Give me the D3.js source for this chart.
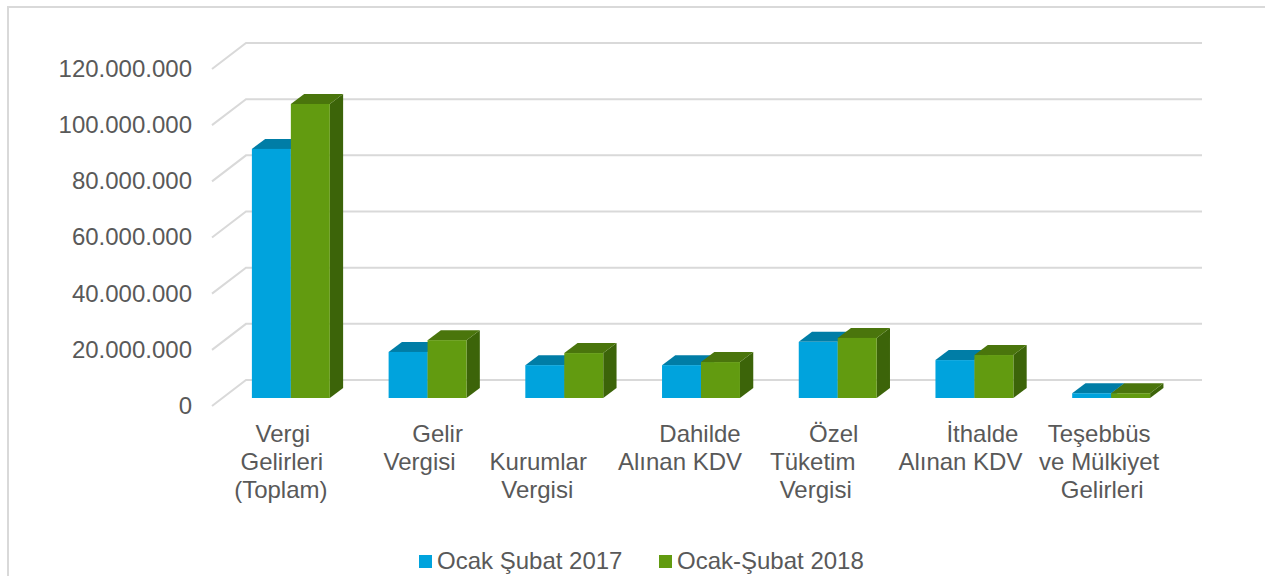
<!DOCTYPE html>
<html><head><meta charset="utf-8">
<script src="https://cdn.jsdelivr.net/npm/d3@7"></script>
<style>html,body{margin:0;padding:0;background:#fff;overflow:hidden}svg{display:block}text{font-family:"Liberation Sans",Arial,sans-serif;fill:#595959}</style>
</head><body><div id="chart"></div>
<script>
const categories=["Vergi Gelirleri (Toplam)","Gelir Vergisi","Kurumlar Vergisi","Dahilde Alınan KDV","Özel Tüketim Vergisi","İthalde Alınan KDV","Teşebbüs ve Mülkiyet Gelirleri"];
const categoryLines=[["Vergi","Gelirleri","(Toplam)"],["Gelir","Vergisi"],["Kurumlar","Vergisi"],["Dahilde","Alınan KDV"],["Özel","Tüketim","Vergisi"],["İthalde","Alınan KDV"],["Teşebbüs","ve Mülkiyet","Gelirleri"]];
const seriesNames=["Ocak Şubat 2017","Ocak-Şubat 2018"];
const values2017=[88700000,16400000,11700000,11700000,20000000,13500000,1700000];
const values2018=[104700000,20600000,16000000,12800000,21400000,15300000,1700000];
const tickValues=[0,20000000,40000000,60000000,80000000,100000000,120000000];

// layout only
const W=1265,H=576,fs=24;
const depthX=13.3,depthY=10,wallDX=34,wallFront=8,wallBack=-18;
const lineCenterShift=[[-8,-9,-10],[10,-8],[-26,-27],[-1,-21],[-4,-25,-22],[8,-14],[-12,-12,-9]];
const lineStart=[0,0,1,0,0,0,0];
const colors=[{front:"#00a3dd",top:"#007da6",side:"#006f94"},{front:"#629b10",top:"#4a750c",side:"#3c6409"}];

const svg=d3.select("#chart").append("svg").attr("width",W).attr("height",H);
svg.append("path").attr("d",`M8,${H}V7H${W}`).attr("fill","none").attr("stroke","#d9d9d9").attr("stroke-width",2);

const y=d3.scaleLinear().domain([0,120000000]).range([398,61]);
const x0=d3.scaleBand().domain(categories).range([222.5,1179.5]).paddingInner(0.43).paddingOuter(0.215);
const x1=d3.scaleBand().domain(seriesNames).range([0,x0.bandwidth()]);
const fmt=d3.formatLocale({decimal:",",thousands:".",grouping:[3],currency:["","₺"]}).format(",.0f");

// walls
const grid=svg.append("g").attr("fill","none").attr("stroke","#d9d9d9").attr("stroke-width",2);
grid.selectAll("path").data(tickValues).join("path")
 .attr("d",d=>{const yb=y(d)+wallBack;return `M212,${yb-wallBack+wallFront}L${212+wallDX},${yb}H1202`;});

// y axis
const axis=svg.append("g").attr("transform","translate(192,0)")
 .call(d3.axisLeft(d3.scaleLinear().domain(y.domain()).range([y(0)+7.5,y(120000000)+8])).tickValues(tickValues).tickFormat(fmt).tickSize(0).tickPadding(0));
axis.select(".domain").remove();
axis.selectAll("text").style("font-size",fs+"px").style("font-family",'"Liberation Sans"').attr("fill","#595959");

// bars
[values2017,values2018].forEach((vals,s)=>{
 const g=svg.append("g");
 const c=colors[s];
 const bx=i=>x0(categories[i])+x1(seriesNames[s]);
 const bw=x1.bandwidth();
 const data=vals.map((v,i)=>({v,i}));
 g.selectAll("path.side").data(data).join("path").attr("class","side").attr("fill",c.side)
  .attr("d",d=>{const r=bx(d.i)+bw,t=y(d.v),b=y(0);return `M${r},${t}l${depthX},${-depthY}V${b-depthY}l${-depthX},${depthY}Z`;});
 g.selectAll("path.top").data(data).join("path").attr("class","top").attr("fill",c.top)
  .attr("d",d=>{const l=bx(d.i),t=y(d.v);return `M${l},${t}l${depthX},${-depthY}h${bw}l${-depthX},${depthY}Z`;});
 g.selectAll("rect").data(data).join("rect").attr("fill",c.front)
  .attr("x",d=>bx(d.i)).attr("width",bw).attr("y",d=>y(d.v)).attr("height",d=>y(0)-y(d.v));
});

// category labels
categories.forEach((cat,i)=>{
 const cx=x0(cat)+x0.bandwidth()/2;
 svg.append("g").selectAll("text").data(categoryLines[i]).join("text")
  .attr("x",(d,j)=>cx+lineCenterShift[i][j]).attr("y",(d,j)=>442+(j+lineStart[i])*28)
  .attr("text-anchor","middle").style("font-size",fs+"px").text(d=>d);
});

// legend
const legX=[419,659];
seriesNames.forEach((n,i)=>{
 svg.append("rect").attr("x",legX[i]).attr("y",555).attr("width",13).attr("height",13).attr("fill",colors[i].front);
 svg.append("text").attr("x",legX[i]+18).attr("y",568.5).style("font-size",fs+"px").text(n);
});
</script></body></html>
